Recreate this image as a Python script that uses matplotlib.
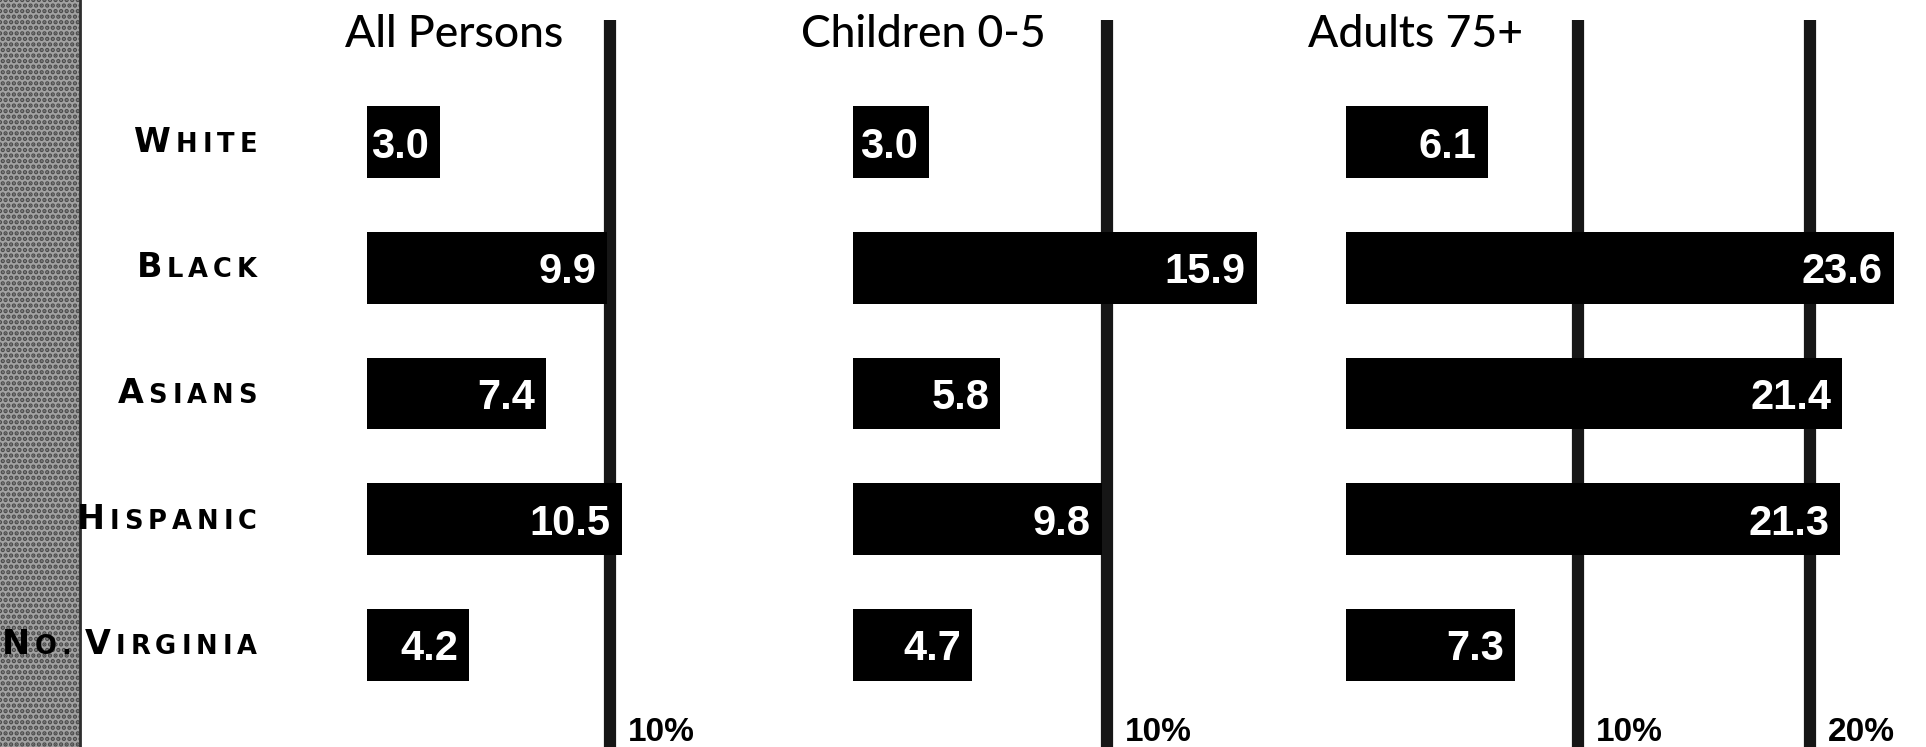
import matplotlib.pyplot as plt
from matplotlib.offsetbox import TextArea, HPacker, AnnotationBbox
from matplotlib.patches import Rectangle
from matplotlib.lines import Line2D

plt.rcParams["hatch.linewidth"] = 2.2

# poverty rates (%) by group, three populations
groups = ["White", "Black", "Asians", "Hispanic", "No. Virginia"]
panel_titles = ["All Persons", "Children 0-5", "Adults 75+"]
all_persons = [3.0, 9.9, 7.4, 10.5, 4.2]
children_0_5 = [3.0, 15.9, 5.8, 9.8, 4.7]
adults_75 = [6.1, 23.6, 21.4, 21.3, 7.3]
ref_lines = [[10], [10], [10, 20]]

# page layout, in pixels
W, H = 1926, 747
panel_left = [367, 853, 1346]
px_per_pct = [24.25, 25.4, 23.2]
panel_xmax = [13, 17, 24.5]
title_x = [345, 801, 1308]
title_base = 47
row_first, row_step = 142, 125.75
bar_h = 0.57
line_top = 20
label_right = 257
strip_w = 80


def small_caps(text, big=24, small=18.5, sep=3.6):
    # bold small caps built letter by letter, first letter of each word larger
    kids = []
    for w_i, word in enumerate(text.split(" ")):
        if w_i > 0:
            kids.append(TextArea(" ", textprops=dict(fontsize=8, family="DejaVu Sans")))
        for i, ch in enumerate(word.upper()):
            size = big if i == 0 else small
            kids.append(TextArea(ch, textprops=dict(fontsize=size, fontweight="bold",
                                                   family="DejaVu Sans", color="black")))
    return HPacker(children=kids, align="baseline", pad=0, sep=sep)


fig = plt.figure(figsize=(W / 100, H / 100), dpi=100)
fig.patch.set_facecolor("white")

# grey grainy strip down the left edge, kept underneath everything else
fig.patches.append(Rectangle((0, 0), strip_w / W, 1, transform=fig.transFigure,
                             facecolor="#a2a2a2", edgecolor="#4a4a4a", hatch="...",
                             lw=0, zorder=-10))
fig.add_artist(Line2D([strip_w / W, strip_w / W], [0, 1], transform=fig.transFigure,
                      color="#2e2e2e", lw=2, zorder=-9))

series = [all_persons, children_0_5, adults_75]
rows = list(range(len(groups)))
axes = []
for k, vals in enumerate(series):
    ax = fig.add_axes([panel_left[k] / W, 0, panel_xmax[k] * px_per_pct[k] / W, 1])
    ax.set_xlim(0, panel_xmax[k])
    ax.set_ylim((H - row_first) / row_step, -row_first / row_step)
    ax.axis("off")

    for v in ref_lines[k]:
        ax.axvline(v, ymin=0, ymax=1 - line_top / H, color="#161616", lw=8.8,
                   solid_capstyle="butt", zorder=1)
        ax.annotate(f"{v}%", xy=(v, 0), xycoords=("data", "axes fraction"),
                    xytext=(18, 6), textcoords="offset pixels", ha="left", va="baseline",
                    fontsize=24, fontweight="bold", family="Liberation Sans")

    ax.barh(rows, vals, height=bar_h, color="black", zorder=2)
    for i, v in zip(rows, vals):
        ax.annotate(f"{v:.1f}", xy=(v, i), xytext=(-11, 0), textcoords="offset pixels",
                    ha="right", va="center_baseline", color="white", fontsize=30,
                    fontweight="bold", family="Liberation Sans", zorder=3)

    fig.text(title_x[k] / W, 1 - title_base / H, panel_titles[k], fontsize=32,
             family="Lato", fontweight="medium", va="baseline", ha="left")
    axes.append(ax)

# row labels to the left of the first panel
for i, name in zip(rows, groups):
    ab = AnnotationBbox(small_caps(name), xy=(label_right, i),
                        xycoords=("figure pixels", "data"), box_alignment=(1, 0.5),
                        frameon=False, pad=0)
    axes[0].add_artist(ab)

fig.savefig("out.png", dpi=100)
plt.close(fig)
